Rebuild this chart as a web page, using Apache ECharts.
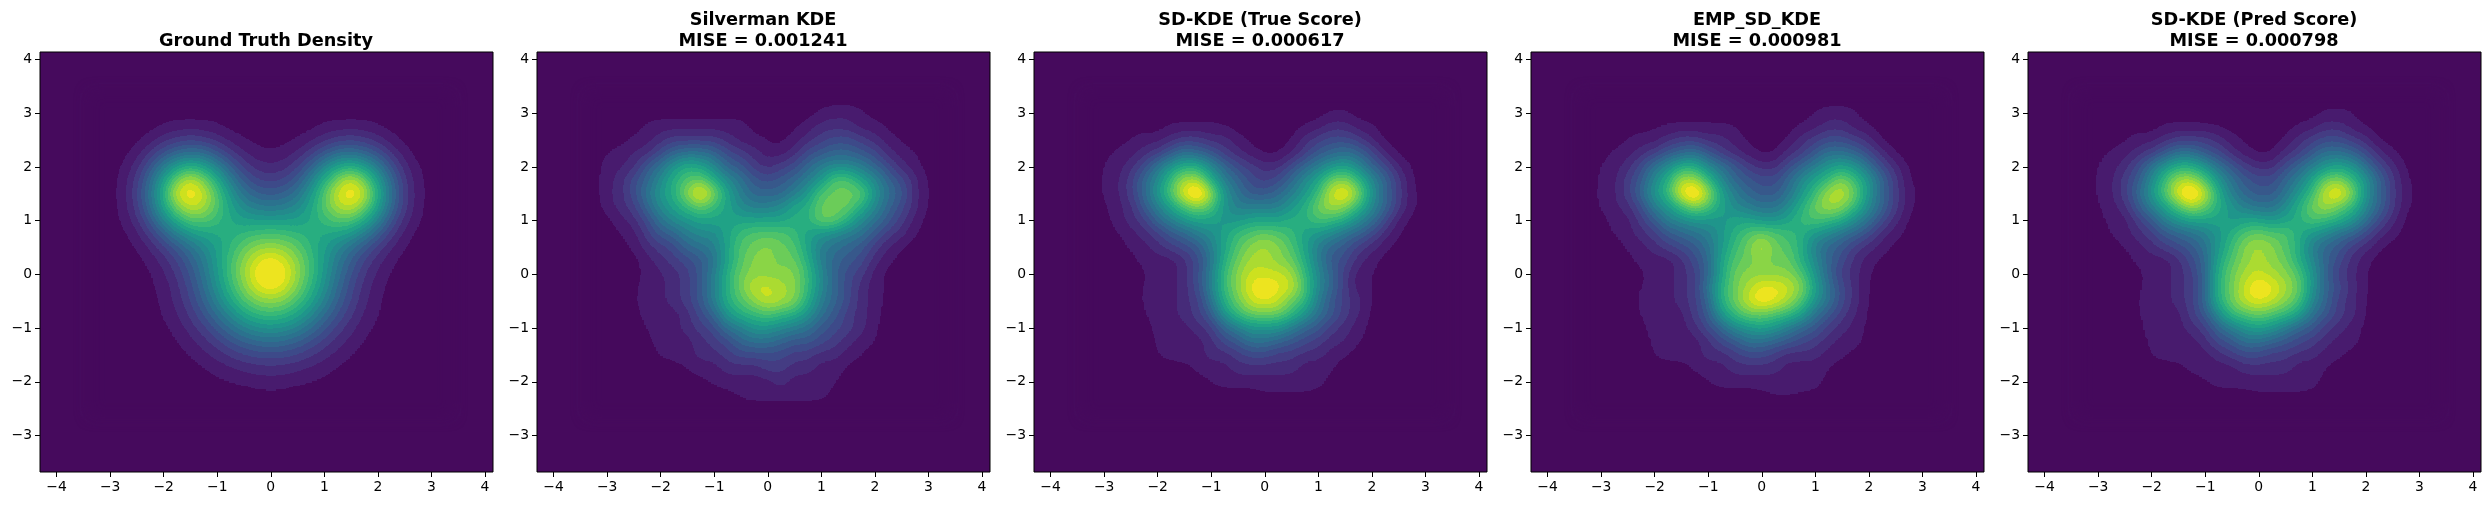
<!DOCTYPE html>
<html><head><meta charset="utf-8">
<style>html,body{margin:0;padding:0;background:#fff}#chart{width:2489px;height:505px}</style>
<script src="https://cdn.jsdelivr.net/npm/echarts@6/dist/echarts.min.js"></script>
</head><body><div id="chart"></div>
<svg width="0" height="0" style="position:absolute"><defs><filter id="bands" x="0" y="0" width="100%" height="100%" color-interpolation-filters="sRGB"><feGaussianBlur stdDeviation="7"/><feComponentTransfer><feFuncR id="fr" type="discrete"/><feFuncG id="fg" type="discrete"/><feFuncB id="fb" type="discrete"/></feComponentTransfer></filter></defs></svg>
<script>
const xNodes=[-3.25,-3,-2.75,-2.5,-2.25,-2,-1.75,-1.5,-1.25,-1,-0.75,-0.5,-0.25,0,0.25,0.5,0.75,1,1.25,1.5,1.75,2,2.25,2.5,2.75,3,3.25];
const yNodes=[3.25,3,2.75,2.5,2.25,2,1.75,1.5,1.25,1,0.75,0.5,0.25,0,-0.25,-0.5,-0.75,-1,-1.25,-1.5,-1.75,-2,-2.25,-2.5];
const xTicks=[-4,-3,-2,-1,0,1,2,3,4];
const yTicks=[-3,-2,-1,0,1,2,3,4];
const titles=['Ground Truth Density','Silverman KDE\nMISE = 0.001241','SD-KDE (True Score)\nMISE = 0.000617','EMP_SD_KDE\nMISE = 0.000981','SD-KDE (Pred Score)\nMISE = 0.000798'];
const bandR=[70,72,71,68,62,56,50,44,40,35,31,32,40,57,80,108,138,172,206,238,238,238,238];
const bandG=[10,28,44,60,75,88,101,114,125,138,150,162,174,185,196,205,213,220,225,229,229,229,229];
const bandB=[93,110,122,132,137,140,142,142,142,141,139,134,128,119,106,90,71,49,31,31,31,31,31];
const truth=[
[0,0,0,0,0,0,0,0,0,0,0,0,0,0,0,0,0,0,0,0,0,0,0,0,0],
[0,0,0,0,0,0,0,0,0,0,0,0,0,0,0,0,0,0,0,0,0,0,0,0,0],
[0,0,0,.1,.5,.9,1,.9,.6,.2,0,0,0,0,0,.2,.6,.9,1,.9,.5,.1,0,0,0],
[0,0,.2,1,2,2.8,3.2,2.9,2.1,1.2,.5,.15,.03,.15,.5,1.2,2.1,2.9,3.2,2.8,2,1,.2,0,0],
[0,.1,1,2.5,4.5,6,7,6.4,4.8,3,1.6,.9,.6,.9,1.6,3,4.8,6.4,7,6,4.5,2.5,1,.1,0],
[0,.5,2,4.5,7.8,10.7,12,11,8.4,5.5,3.2,2,1.6,2,3.2,5.5,8.4,11,12,10.7,7.8,4.5,2,.5,0],
[0,.9,2.8,6.3,10.7,15,18,15.4,11.9,8,5.1,3.5,3.1,3.5,5.1,8,11.9,15.4,18,15,10.7,6.3,2.8,.9,0],
[0,1,3.2,7,12,18,20,18,14,10,7,5.5,5,5.5,7,10,14,18,20,18,12,7,3.2,1,0],
[0,.9,2.9,6.4,11,15.4,18,17,14.2,11.1,8.9,7.8,7.5,7.8,8.9,11.1,14.2,17,18,15.4,11,6.4,2.9,.9,0],
[0,.6,2.1,4.8,8.4,11.9,14.1,14.2,13,11.6,10.7,10.5,10.4,10.5,10.7,11.6,13,14.2,14.1,11.9,8.4,4.8,2.1,.6,0],
[0,.2,1.2,3,5.5,8,10.1,11.1,11.6,12,12.7,13.3,13.6,13.3,12.7,12,11.6,11.1,10.1,8,5.5,3,1.2,.2,0],
[0,0,.5,1.6,3.2,5.1,7,8.9,10.7,12.6,14.5,16,16.5,16,14.5,12.6,10.7,8.9,7,5.1,3.2,1.6,.5,0,0],
[0,0,.1,.8,1.9,3.4,5.4,7.7,10.4,13.3,16,18.3,19.5,18.3,16,13.3,10.4,7.7,5.4,3.4,1.9,.8,.1,0,0],
[0,0,0,.4,1.3,2.6,4.6,7.1,10.1,13.4,16.4,19.5,20.5,19.5,16.4,13.4,10.1,7.1,4.6,2.6,1.3,.4,0,0,0],
[0,0,0,.2,.9,2.1,3.9,6.4,9.4,12.7,15.6,18.3,19.5,18.3,15.6,12.7,9.4,6.4,3.9,2.1,.9,.2,0,0,0],
[0,0,0,.13,.76,1.8,3.4,5.6,8.3,11.1,13.8,15.7,16.3,15.7,13.8,11.1,8.3,5.6,3.4,1.8,.76,.13,0,0,0],
[0,0,0,0,.53,1.38,2.7,4.5,6.65,9,11.2,12.7,13.2,12.7,11.2,9,6.65,4.5,2.7,1.38,.53,0,0,0,0],
[0,0,0,0,.27,.9,1.9,3.2,4.9,6.65,8.3,9.4,9.8,9.4,8.3,6.65,4.9,3.2,1.9,.9,.27,0,0,0,0],
[0,0,0,0,.04,.48,1.16,2.1,3.2,4.5,5.6,6.4,6.7,6.4,5.6,4.5,3.2,2.1,1.16,.48,.04,0,0,0,0],
[0,0,0,0,0,.13,.56,1.16,1.9,2.7,3.4,3.9,4.1,3.9,3.4,2.7,1.9,1.16,.56,.13,0,0,0,0,0],
[0,0,0,0,0,0,.13,.48,.9,1.38,1.8,2.1,2.2,2.1,1.8,1.38,.9,.48,.13,0,0,0,0,0,0],
[0,0,0,0,0,0,0,.03,.27,.52,.75,.92,.98,.92,.75,.52,.27,.03,0,0,0,0,0,0,0],
[0,0,0,0,0,0,0,0,0,.01,.13,.21,.24,.21,.13,.01,0,0,0,0,0,0,0,0,0],
[0,0,0,0,0,0,0,0,0,0,0,0,0,0,0,0,0,0,0,0,0,0,0,0,0]];
const silverman=[
[0,0,0,0,0,0,0,0,0,0,0,0,0,0,0,0,0,0,0,0,0,0,0,0,0],
[0,0,0,0,0,0,0,0,0,0,0,0,0,0,0,0,.6,1.2,1.2,.7,0,0,0,0,0],
[0,0,0,.7,1,1,1,1,1,1,1,.2,0,0,.3,.9,2,2,2,1,1,.3,0,0,0],
[0,0,.7,1,2,3,3,3,3,2,1,.9,.4,.2,.9,2,3,4,4,3,2,1,.4,0,0],
[.45,1,1.5,2,4,6,7,7,6,4,3,2,1.1,1,2,4,5,6,6,5,4,2,1,.5,0],
[.9,1.3,2,5,7,10,12,11,9,6,5,3,2,3,4,6,8,9,9,8,6,4,2,.9,.1],
[1.1,2,4,6,9,12,14,15,12,9,7,5,4,5,6,8,10,14,14,11,9,6,4,2,.3],
[1.2,2,4,7,10,12,16,20,16,11,8,6,6,6,8,10,14,15,15,15,10,7,5,2,.4],
[.8,2,3,6,9,11,13,15,13,11,9,8,8,9,11,12,15,15,15,12,9,6,4,2,.3],
[.2,1,2,4,7,9,10,11,11,11,11,11,11,11,12,12,15,15,12,9,7,5,3,1.2,.1],
[0,.45,1,3,5,6,8,9,9,11,13,14,14,14,13,11,10,9,8,7,5,3,2,.55,0],
[0,.1,.6,2,3,4,6,7,8,11,14,15,16,15,14,11,8,7,6,5,3,1.5,.55,0,0],
[0,0,.1,1,2,3,4,5,7,11,14,16,16,15,15,12,8,6,5,4,2,.7,.05,0,0],
[0,0,0,.9,1.3,2,3,5,8,12,15,16,16,16,16,13,9,6,4,3,1,.2,0,0,0],
[0,0,.2,1,1.2,2,3,5,8,12,15,18,18,17,16,13,9,6,4,2,1,.3,0,0,0],
[0,0,.3,1,1.2,2,3,5,8,12,14,16,18,17,16,12,8,6,4,2,1,.2,0,0,0],
[0,0,.1,.9,1,1,2,4,6,10,12,13,14,13,12,10,7,5,3,2,.9,.1,0,0,0],
[0,0,0,.55,1,1,2,3,4,7,8,10,10,9,8,7,5,4,3,2,.6,0,0,0,0],
[0,0,0,.2,1,1,1,2,3,4,6,7,7,6,5,5,4,3,2,1,.55,0,0,0,0],
[0,0,0,0,.6,1,1,2,2,3,4,4,4,4,3,3,2,2,1,.55,0,0,0,0,0],
[0,0,0,0,0,0,.5,1,1,2,2,2,3,3,2,2,1,1,.35,0,0,0,0,0,0],
[0,0,0,0,0,0,0,.2,.7,1,1,1,1,2,1,1,1,.65,0,0,0,0,0,0,0],
[0,0,0,0,0,0,0,0,0,.2,.6,1,1,1,1,1,.9,.2,0,0,0,0,0,0,0],
[0,0,0,0,0,0,0,0,0,0,0,0,0,0,0,0,0,0,0,0,0,0,0,0,0]];
const trueScore=[
[0,0,0,0,0,0,0,0,0,0,0,0,0,0,0,0,0,0,0,0,0,0,0,0,0],
[0,0,0,0,0,0,0,0,0,0,0,0,0,0,0,0,0,.55,.6,0,0,0,0,0,0],
[0,0,0,0,0,.5,.6,.6,.6,.5,0,0,0,0,0,.45,1,2,2,1,.6,0,0,0,0],
[0,0,.5,1,1,2,3,3,2,2,.9,.3,0,0,.4,2,3,4,4,3,1.5,.3,0,0,0],
[.1,.8,1,2,3,5,7,6,5,3,2,.9,.3,.3,1.3,3,5,6,7,6,4,1.5,.3,0,0],
[.5,1,2,4,7,10,12,12,9,6,4,3,2,2,4,6,8,10,11,9,6,4,1.5,.35,0],
[.5,1.2,3,6,9,13,17,17,12,8,6,4,3,4,6,9,11,15,16,13,9,6,3,.5,0],
[.5,1.3,3,6,10,14,19,22,17,10,7,5,5,6,8,10,13,18,20,16,10,6,3,.8,0],
[.3,1,2,5,8,11,14,16,14,10,8,8,8,8,10,12,15,17,16,13,9,6,3,.7,0],
[.05,.9,2,3,6,8,10,11,11,10,10,11,11,11,12,12,14,13,12,9,7,4,1.2,.2,0],
[0,.4,1,2,3,5,6,8,9,11,13,14,15,14,13,11,10,9,7,6,4,2,.5,0,0],
[0,.05,.6,1,2,3,4,5,8,11,14,16,17,16,14,11,8,6,5,3,2,.7,.05,0,0],
[0,0,.2,.8,1,1,2,4,7,12,15,17,17,16,15,12,8,5,4,2,.9,.1,0,0,0],
[0,0,0,.4,1,1,2,4,8,13,16,18,18,18,17,13,9,6,3,1,.55,0,0,0,0],
[0,0,0,.5,1,1,2,4,8,13,16,19,20,19,18,14,9,6,3,1,.5,0,0,0,0],
[0,0,0,.6,1,1,2,3,7,12,15,18,19,18,15,13,8,5,3,2,.4,0,0,0,0],
[0,0,0,.4,1,1,2,3,5,10,13,15,15,15,13,10,7,5,3,1.5,.3,0,0,0,0],
[0,0,0,.1,.8,1,1,2,3,6,8,10,10,10,8,6,5,3,2,1,.2,0,0,0,0],
[0,0,0,0,.6,1,1,1,2,4,5,7,7,6,5,4,3,2,1.5,.6,0,0,0,0,0],
[0,0,0,0,.45,1,1,1,2,2,3,4,4,3,3,2,2,1,.6,0,0,0,0,0,0],
[0,0,0,0,0,0,.1,.8,1,1,2,2,2,2,2,1,1,.6,0,0,0,0,0,0,0],
[0,0,0,0,0,0,0,0,.5,1,1,1,1,1,1,1,1,.15,0,0,0,0,0,0,0],
[0,0,0,0,0,0,0,0,0,0,0,0,.4,.4,.4,.4,.1,0,0,0,0,0,0,0,0],
[0,0,0,0,0,0,0,0,0,0,0,0,0,0,0,0,0,0,0,0,0,0,0,0,0]];
const empScore=[
[0,0,0,0,0,0,0,0,0,0,0,0,0,0,0,0,0,0,0,0,0,0,0,0,0],
[0,0,0,0,0,0,0,0,0,0,0,0,0,0,0,0,.55,1,1.1,.6,0,0,0,0,0],
[0,0,0,0,.3,.55,.6,.6,.6,.6,.5,0,0,0,0,.6,1,2,2,1,.5,0,0,0,0],
[0,0,.55,1,1,2,3,3,2,2,1,.35,0,0,.5,2,3,4,4,3,2,.25,0,0,0],
[0,.7,1,2,3,5,6,7,5,3,2,1,.3,.35,2,3,5,7,7,6,4,2,.35,0,0],
[.5,1,2,4,7,9,12,12,9,7,5,3,2,2,4,6,8,10,11,10,7,4,2,.3,0],
[.6,1.2,3,5,9,12,17,17,13,9,6,5,4,4,6,9,11,13,16,13,10,6,3,.5,0],
[.7,1.3,3,6,10,13,19,22,17,11,8,6,5,5,7,10,13,17,18,15,10,6,3,1,.1],
[.55,1.2,2,4,8,10,13,16,14,11,9,8,7,7,9,12,15,17,16,13,9,6,3,.8,0],
[.1,.9,1,3,5,8,9,10,10,10,11,11,10,10,11,13,14,13,12,9,7,4,2,.3,0],
[0,.55,1,2,3,5,6,7,8,10,12,14,15,14,13,12,10,9,7,6,4,2,.9,.05,0],
[0,0,.6,1,2,3,4,5,7,10,13,15,18,15,14,12,8,6,5,3,2,1,.15,0,0],
[0,0,.2,.8,1,1,2,4,6,11,14,15,16,15,15,12,9,6,4,2,1,.15,0,0,0],
[0,0,0,.3,1,1,2,3,6,11,15,16,16,16,16,14,10,6,3,2,.5,0,0,0,0],
[0,0,0,.45,1,1,2,3,7,12,15,17,19,19,18,16,11,7,4,2,.45,0,0,0,0],
[0,0,.05,.7,1,1,2,3,6,12,15,18,20,19,17,14,10,7,4,2,.4,0,0,0,0],
[0,0,0,.5,1,1,1,3,5,10,13,15,15,14,13,11,7,5,3,1.5,.3,0,0,0,0],
[0,0,0,.2,1,1,1,2,4,6,9,10,11,10,8,6,5,3,2,1,.3,0,0,0,0],
[0,0,0,0,.7,1,1,1,2,4,5,7,7,6,5,4,3,2,1,1,.1,0,0,0,0],
[0,0,0,0,.55,1,1,1,2,2,3,4,4,3,2,2,2,1,.8,.1,0,0,0,0,0],
[0,0,0,0,0,0,0,.7,1,1,2,2,2,2,1,1,1,.5,0,0,0,0,0,0,0],
[0,0,0,0,0,0,0,0,.45,1,1,1,1,1,1,1,1,.2,0,0,0,0,0,0,0],
[0,0,0,0,0,0,0,0,0,0,0,0,.2,.5,.5,.4,.2,0,0,0,0,0,0,0,0],
[0,0,0,0,0,0,0,0,0,0,0,0,0,0,0,0,0,0,0,0,0,0,0,0,0]];
const predScore=[
[0,0,0,0,0,0,0,0,0,0,0,0,0,0,0,0,0,0,0,0,0,0,0,0,0],
[0,0,0,0,0,0,0,0,0,0,0,0,0,0,0,0,0,.6,.7,.5,0,0,0,0,0],
[0,0,0,0,0,.55,.6,.6,.5,.4,0,0,0,0,0,.55,1,2,2,1,.4,0,0,0,0],
[0,0,.4,1,1,2,3,3,3,2,1,.3,0,0,.5,2,3,4,4,3,2,.35,0,0,0],
[.05,.75,1,2,3,5,7,7,5,4,2,1,.3,.35,2,3,5,7,7,6,4,2,.7,.05,0],
[.5,1,2,4,7,10,12,12,10,7,5,3,2,2,4,6,8,10,11,10,7,4,2,.35,0],
[.5,1.2,3,5,9,13,17,17,14,10,7,5,4,4,6,8,11,15,16,13,10,6,3,.7,0],
[.55,1.3,3,6,10,14,19,22,18,12,8,6,5,5,7,10,13,18,20,16,10,6,3,1,.05],
[.4,1.1,2,5,8,11,14,17,15,12,10,8,7,7,9,12,15,17,15,13,9,6,3,.7,0],
[.05,.8,1,3,5,8,10,11,11,11,10,11,11,10,11,12,14,13,12,10,7,4,2,.2,0],
[0,.55,1,2,3,5,6,7,8,10,12,14,15,14,14,12,10,9,7,6,4,2,.9,.05,0],
[0,0,.5,1,2,3,4,5,7,10,13,16,17,16,14,12,8,6,5,3,2,.7,0,0,0],
[0,0,.1,.7,1,1,2,4,6,11,14,16,17,16,15,12,9,6,4,2,.8,0,0,0,0],
[0,0,0,.2,1,1,2,3,6,12,15,17,18,17,16,14,10,6,3,2,.55,0,0,0,0],
[0,0,0,.3,1,1,2,3,6,12,15,18,20,19,17,15,10,6,4,2,.5,0,0,0,0],
[0,0,0,.5,1,1,2,3,6,12,15,18,19,18,16,14,9,6,3,2,.45,0,0,0,0],
[0,0,0,.4,1,1,1,3,5,9,13,14,15,14,13,11,7,5,3,2,.4,0,0,0,0],
[0,0,0,.2,1,1,1,2,3,6,8,10,11,10,8,6,5,3,2,1,.3,0,0,0,0],
[0,0,0,0,.7,1,1,1,2,4,5,7,7,6,5,4,3,2,1,1,.1,0,0,0,0],
[0,0,0,0,.5,1,1,1,1,2,3,4,4,3,3,2,2,1,.8,.1,0,0,0,0,0],
[0,0,0,0,0,0,.1,.9,1,1,1,2,2,2,2,1,1,.55,0,0,0,0,0,0,0],
[0,0,0,0,0,0,0,0,.4,1,1,1,1,1,1,1,1,.2,0,0,0,0,0,0,0],
[0,0,0,0,0,0,0,0,0,0,0,.1,.4,.4,.4,.4,.2,0,0,0,0,0,0,0,0],
[0,0,0,0,0,0,0,0,0,0,0,0,0,0,0,0,0,0,0,0,0,0,0,0,0]];

const panels=[truth,silverman,trueScore,empScore,predScore];
const lefts=[40,537,1034,1531,2028];
const plotW=453, plotTop=52, plotH=420;
const levels=bandR.length;
const fmt=v=>String(v).replace('-','\u2212');
const toTable=a=>a.map(c=>(c/255).toFixed(4)).join(' ');
document.getElementById('fr').setAttribute('tableValues',toTable(bandR));
document.getElementById('fg').setAttribute('tableValues',toTable(bandG));
document.getElementById('fb').setAttribute('tableValues',toTable(bandB));
const grayAt=v=>{const g=Math.round((v+0.5)/levels*255);return `rgb(${g},${g},${g})`;};
const cell=(params,api)=>{
  const x=api.value(0),y=api.value(1);
  const a=api.coord([x-0.125,y+0.125]),b=api.coord([x+0.125,y-0.125]);
  return {type:'rect',shape:{x:a[0]-0.5,y:a[1]-0.5,width:b[0]-a[0]+1,height:b[1]-a[1]+1},style:{fill:api.visual('color')}};
};
const font={fontFamily:'DejaVu Sans',fontSize:13.9,color:'#000'};
const axisBase=(ticks,min,max)=>({type:'value',min,max,splitLine:{show:false},
  axisLine:{show:false,onZero:false},
  axisTick:{show:true,length:5,customValues:ticks,lineStyle:{color:'#000',width:1}},
  axisLabel:{show:true,margin:8,customValues:ticks,formatter:fmt,...font,showMinLabel:true,showMaxLabel:true}});
const option={backgroundColor:'#fff',animation:false,
  title:titles.map((t,i)=>({text:t,left:lefts[i]+plotW/2-5.5,top:t.includes('\n')?5:26,textAlign:'center',
    textStyle:{fontFamily:'DejaVu Sans',fontWeight:'bold',fontSize:17.7,lineHeight:21,color:'#000'}})),
  grid:lefts.map(l=>({left:l,top:plotTop,width:plotW,height:plotH,show:true,backgroundColor:'#460a5d',borderColor:'#000',borderWidth:1,containLabel:false})),
  xAxis:lefts.map((l,i)=>({...axisBase(xTicks,-4.31,4.15),gridIndex:i})),
  yAxis:lefts.map((l,i)=>({...axisBase(yTicks,-3.68,4.14),gridIndex:i})),
  visualMap:{show:false,type:'continuous',min:0,max:levels-1,dimension:2,inRange:{color:[grayAt(0),grayAt(levels-1)]}},
  series:panels.map((rows,i)=>({type:'custom',xAxisIndex:i,yAxisIndex:i,zlevel:1,silent:true,clip:true,animation:false,progressive:0,
    renderItem:cell,encode:{x:0,y:1},
    data:rows.flatMap((r,j)=>[0,...r,0].map((v,k)=>[xNodes[k],yNodes[j],v]))}))
};
const chart=echarts.init(document.getElementById('chart'),null,{renderer:'canvas'});
chart.setOption(option);
const applyBands=()=>{const c=document.querySelector('#chart canvas[data-zr-dom-id="zr_1"]');if(c)c.style.filter='url(#bands)';};
applyBands();chart.on('finished',applyBands);
</script></body></html>
